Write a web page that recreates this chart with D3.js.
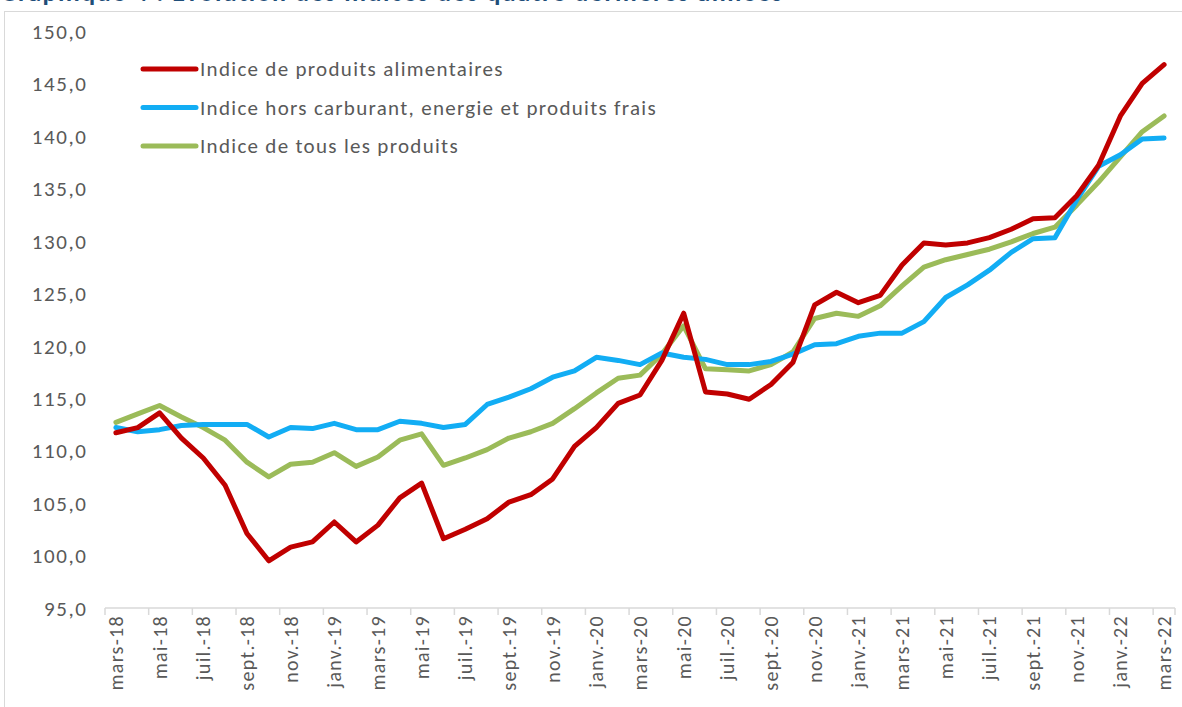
<!DOCTYPE html>
<html>
<head>
<meta charset="utf-8">
<script src="https://cdn.jsdelivr.net/npm/d3@7"></script>
<style>
  html, body { margin: 0; padding: 0; background: #fff; }
  svg { display: block; }
  text { font-family: Carlito, Lato, "Open Sans", sans-serif; }
</style>
</head>
<body>
<svg id="chart" width="1182" height="707"></svg>
<script>
const months = ["mars-18","avr.-18","mai-18","juin-18","juil.-18","août-18","sept.-18","oct.-18","nov.-18","déc.-18",
  "janv.-19","févr.-19","mars-19","avr.-19","mai-19","juin-19","juil.-19","août-19","sept.-19","oct.-19","nov.-19","déc.-19",
  "janv.-20","févr.-20","mars-20","avr.-20","mai-20","juin-20","juil.-20","août-20","sept.-20","oct.-20","nov.-20","déc.-20",
  "janv.-21","févr.-21","mars-21","avr.-21","mai-21","juin-21","juil.-21","août-21","sept.-21","oct.-21","nov.-21","déc.-21",
  "janv.-22","févr.-22","mars-22"];

const alimentaires = [111.7,112.2,113.6,111.2,109.3,106.7,102.1,99.5,100.8,101.3,
  103.2,101.3,102.9,105.5,106.9,101.6,102.5,103.5,105.1,105.8,107.3,110.4,
  112.2,114.5,115.3,118.6,123.1,115.6,115.4,114.9,116.3,118.4,123.9,125.1,
  124.1,124.8,127.7,129.8,129.6,129.8,130.3,131.1,132.1,132.2,134.3,137.2,
  141.9,145.0,146.8];

const horsCarburant = [112.2,111.8,112.0,112.4,112.5,112.5,112.5,111.3,112.2,112.1,
  112.6,112.0,112.0,112.8,112.6,112.2,112.5,114.4,115.1,115.9,117.0,117.6,
  118.9,118.6,118.2,119.3,118.9,118.7,118.2,118.2,118.5,119.2,120.1,120.2,
  120.9,121.2,121.2,122.3,124.6,125.8,127.2,128.9,130.2,130.3,133.9,137.1,
  138.2,139.7,139.8];

const tousProduits = [112.7,113.5,114.3,113.2,112.2,111.0,108.9,107.5,108.7,108.9,
  109.8,108.5,109.4,111.0,111.6,108.6,109.3,110.1,111.2,111.8,112.6,114.0,
  115.5,116.9,117.2,119.2,121.9,117.8,117.7,117.6,118.2,119.4,122.6,123.1,
  122.8,123.8,125.7,127.5,128.2,128.7,129.2,129.9,130.7,131.3,133.4,135.6,
  138.0,140.4,141.9];

const seriesNames = ["Indice de produits alimentaires",
  "Indice hors carburant, energie et produits frais",
  "Indice de tous les produits"];
const seriesColors = ["#C00000", "#12ADF4", "#9BBB59"];
const yTicks = [95,100,105,110,115,120,125,130,135,140,145,150];
const titleText = "Graphique 4 : Evolution des indices des quatre dernières années";

const svg = d3.select("#chart");
const textColor = "#595959";

// title (clipped at top as in reference)
svg.append("text").attr("x", 0).attr("y", 1)
  .attr("fill", "#1F4E79").attr("font-weight", "bold").attr("font-size", 26)
  .attr("letter-spacing", 1.5)
  .text(titleText);

// chart border
svg.append("rect").attr("x", 4.5).attr("y", 11.5).attr("width", 1190).attr("height", 720)
  .attr("fill", "none").attr("stroke", "#D9D9D9").attr("stroke-width", 1);

const x = d3.scaleBand().domain(months).range([105, 1175]).paddingInner(0).paddingOuter(0);
const y = d3.scaleLinear().domain([95, 150]).range([608, 31]);
const cx = d => x(d) + x.bandwidth() / 2;

// y axis labels
const yAxis = d3.axisLeft(y).tickValues(yTicks)
  .tickFormat(d => d3.format(".1f")(d).replace(".", ",")).tickSize(0).tickPadding(0);
const gy = svg.append("g").attr("transform", "translate(87.5,0)").call(yAxis);
gy.select(".domain").remove();
gy.selectAll("text").attr("fill", textColor).attr("font-size", 21)
  .attr("font-family", "Carlito, Lato, sans-serif").attr("letter-spacing", 1.6).attr("dy", "0.35em");

// x axis
const labelMonths = months.filter((m, i) => i % 2 === 0);
const gx = svg.append("g").attr("transform", "translate(0,608)");
gx.append("line").attr("x1", 105).attr("x2", 1175).attr("y1", 0).attr("y2", 0)
  .attr("stroke", "#D9D9D9").attr("stroke-width", 1.5);
gx.selectAll("line.tick").data(labelMonths.concat(["__end"])).enter().append("line")
  .attr("class", "tick")
  .attr("x1", d => d === "__end" ? 1175 : x(d)).attr("x2", d => d === "__end" ? 1175 : x(d))
  .attr("y1", 0).attr("y2", 7).attr("stroke", "#D9D9D9").attr("stroke-width", 1.5);
gx.selectAll("text.lbl").data(labelMonths).enter().append("text")
  .attr("class", "lbl")
  .attr("transform", d => `translate(${cx(d) + 7},7) rotate(-90)`)
  .attr("text-anchor", "end").attr("fill", textColor).attr("font-size", 20)
  .attr("letter-spacing", 1.3)
  .text(d => d);

// lines
const allSeries = [alimentaires, horsCarburant, tousProduits];
const line = d3.line().x((d, i) => cx(months[i])).y(d => y(d));
[2, 1, 0].forEach(k => {
  svg.append("path").datum(allSeries[k])
    .attr("d", line).attr("fill", "none")
    .attr("stroke", seriesColors[k]).attr("stroke-width", 5)
    .attr("stroke-linejoin", "round").attr("stroke-linecap", "round");
});

// legend
const legendY = [69, 107.5, 146];
seriesNames.forEach((name, k) => {
  svg.append("line").attr("x1", 143).attr("x2", 196).attr("y1", legendY[k]).attr("y2", legendY[k])
    .attr("stroke", seriesColors[k]).attr("stroke-width", 5).attr("stroke-linecap", "round");
  svg.append("text").attr("x", 200).attr("y", legendY[k]).attr("dy", "0.35em")
    .attr("fill", textColor).attr("font-size", 21).attr("letter-spacing", 1.3).text(name);
});
</script>
</body>
</html>
